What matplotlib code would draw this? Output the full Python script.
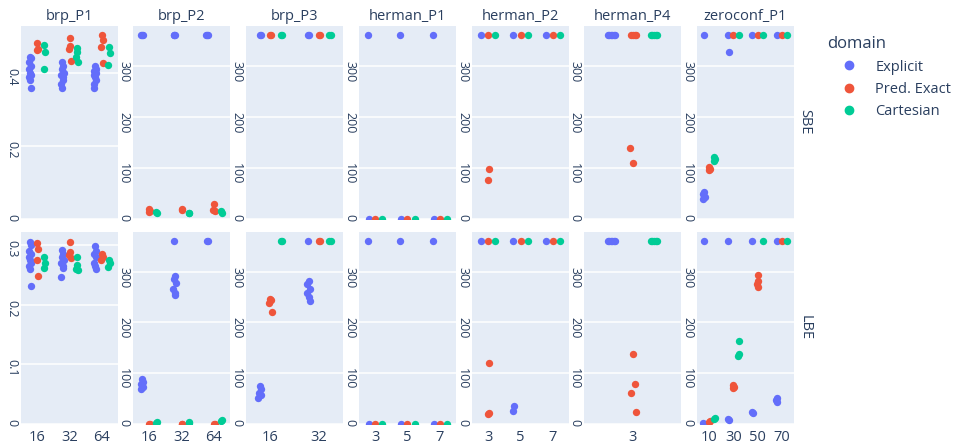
import matplotlib.pyplot as plt
from matplotlib.lines import Line2D

plt.rcParams['font.family'] = ['Open Sans', 'DejaVu Sans']

columns = ["brp_P1", "brp_P2", "brp_P3", "herman_P1", "herman_P2", "herman_P4", "zeroconf_P1"]
categories = [
    ["16", "32", "64"],
    ["16", "32", "64"],
    ["16", "32"],
    ["3", "5", "7"],
    ["3", "5", "7"],
    ["3"],
    ["10", "30", "50", "70"],
]
row_names = ["SBE", "LBE"]
domains = ["Explicit", "Pred. Exact", "Cartesian"]
colors = {"Explicit": "#636EFA", "Pred. Exact": "#EF553B", "Cartesian": "#00CC96"}

# values per panel: domain -> one list per category
brp_P1_SBE = {
    "Explicit": [[0.445, 0.44, 0.43, 0.42, 0.41, 0.40, 0.395, 0.39, 0.38, 0.36],
                 [0.43, 0.42, 0.41, 0.40, 0.395, 0.39, 0.38, 0.37, 0.36],
                 [0.42, 0.41, 0.405, 0.40, 0.395, 0.39, 0.38, 0.37, 0.36]],
    "Pred. Exact": [[0.482, 0.466, 0.463], [0.496, 0.474, 0.466, 0.433], [0.504, 0.49, 0.471, 0.427]],
    "Cartesian": [[0.477, 0.458, 0.411], [0.469, 0.458, 0.444, 0.43], [0.471, 0.455, 0.422]],
}
brp_P1_LBE = {
    "Explicit": [[0.305, 0.30, 0.29, 0.285, 0.28, 0.275, 0.27, 0.265, 0.26, 0.231],
                 [0.292, 0.285, 0.28, 0.275, 0.27, 0.265, 0.261, 0.246],
                 [0.298, 0.29, 0.285, 0.28, 0.27, 0.265, 0.26]],
    "Pred. Exact": [[0.303, 0.293, 0.275, 0.248], [0.305, 0.288, 0.283, 0.278], [0.285, 0.28, 0.275]],
    "Cartesian": [[0.28, 0.27, 0.261], [0.28, 0.267, 0.26, 0.258], [0.275, 0.27, 0.263]],
}
brp_P2_SBE = {
    "Explicit": [[360, 360, 360], [360, 360, 360], [360, 360, 360]],
    "Pred. Exact": [[20, 16, 14], [20, 17], [29, 16, 18]],
    "Cartesian": [[13, 12], [12, 11], [15, 12]],
}
brp_P2_LBE = {
    "Explicit": [[88, 82, 78, 72, 68], [360, 292, 285, 278, 265, 258, 254], [360, 360]],
    "Pred. Exact": [[0, 0], [0, 0], [0, 0]],
    "Cartesian": [[2, 3], [2, 3], [5, 8]],
}
brp_P3_SBE = {
    "Explicit": [[360, 360], [360, 360]],
    "Pred. Exact": [[360, 360], [360, 360]],
    "Cartesian": [[360, 360], [360, 360]],
}
brp_P3_LBE = {
    "Explicit": [[74, 68, 62, 58, 52], [360, 282, 275, 265, 258, 250, 242]],
    "Pred. Exact": [[247, 244, 238, 221], [360, 360]],
    "Cartesian": [[360, 360], [360, 360]],
}
herman_P1_SBE = {
    "Explicit": [[360, 0], [360, 0], [360, 0]],
    "Pred. Exact": [[0], [0], [0]],
    "Cartesian": [[0], [0], [0]],
}
herman_P1_LBE = {
    "Explicit": [[360, 0], [360, 0], [360, 0]],
    "Pred. Exact": [[0], [0], [0]],
    "Cartesian": [[0], [0], [0]],
}
herman_P2_SBE = {
    "Explicit": [[360], [360], [360]],
    "Pred. Exact": [[360, 98, 76], [360], [360]],
    "Cartesian": [[360], [360], [360]],
}
herman_P2_LBE = {
    "Explicit": [[360], [360, 36, 26], [360]],
    "Pred. Exact": [[360, 121, 20, 22], [360], [360]],
    "Cartesian": [[360], [360], [360]],
}
herman_P4_SBE = {
    "Explicit": [[360, 360, 360, 360, 360, 360]],
    "Pred. Exact": [[360, 360, 360, 360, 139, 110]],
    "Cartesian": [[360, 360, 360, 360, 360]],
}
herman_P4_LBE = {
    "Explicit": [[360, 360, 360, 360, 360, 360]],
    "Pred. Exact": [[137, 78, 62, 24]],
    "Cartesian": [[360, 360, 360, 360, 360]],
}
zeroconf_P1_SBE = {
    "Explicit": [[360, 53, 48, 44, 40], [360, 327], [360], [360]],
    "Pred. Exact": [[102, 98, 95], [360], [360], [360]],
    "Cartesian": [[122, 118, 114], [360], [360], [360]],
}
zeroconf_P1_LBE = {
    "Explicit": [[360, 0, 1], [360, 8, 10], [360, 22, 24], [360, 52, 48, 44]],
    "Pred. Exact": [[4, 5], [76, 73, 70], [294, 282, 276, 270], [360]],
    "Cartesian": [[9, 11], [163, 137, 133], [360], [360]],
}

panels = {
    "SBE": [brp_P1_SBE, brp_P2_SBE, brp_P3_SBE, herman_P1_SBE, herman_P2_SBE, herman_P4_SBE, zeroconf_P1_SBE],
    "LBE": [brp_P1_LBE, brp_P2_LBE, brp_P3_LBE, herman_P1_LBE, herman_P2_LBE, herman_P4_LBE, zeroconf_P1_LBE],
}

TEXT = "#2a3f5f"
BG = "#E5ECF6"
W, H = 958, 447
offsets = [-0.22, 0.0, 0.22]
jitter = [0.0, 0.025, -0.02, 0.035, -0.03, 0.01, 0.03, -0.035, -0.01, 0.02]

fig = plt.figure(figsize=(W / 100, H / 100), dpi=100)

ax_left = [21, 133, 246, 359, 472, 584, 697]
ax_w = 97
row_box = {"SBE": (26, 219), "LBE": (232, 424)}

for r, row in enumerate(row_names):
    top, bot = row_box[row]
    for c, col in enumerate(columns):
        ax = fig.add_axes([ax_left[c] / W, 1 - bot / H, ax_w / W, (bot - top) / H])
        ax.set_facecolor(BG)
        for s in ax.spines.values():
            s.set_visible(False)
        data = panels[row][c]
        cats = categories[c]
        for d, dom in enumerate(domains):
            xs, ys = [], []
            for k, vals in enumerate(data[dom]):
                for i, v in enumerate(vals):
                    xs.append(k + offsets[d] + jitter[i % len(jitter)])
                    ys.append(v)
            ax.scatter(xs, ys, s=28, color=colors[dom], linewidths=0, zorder=3, clip_on=True)
        ax.set_xlim(-0.5, len(cats) - 0.5)
        ax.set_xticks(range(len(cats)))
        if col == "brp_P1":
            if row == "SBE":
                ax.set_ylim(0, 0.529)
                ax.set_yticks([0, 0.2, 0.4], ["0", "0.2", "0.4"])
            else:
                ax.set_ylim(0, 0.322)
                ax.set_yticks([0, 0.1, 0.2, 0.3], ["0", "0.1", "0.2", "0.3"])
        else:
            ax.set_ylim(0, 378)
            ax.set_yticks([0, 100, 200, 300])
        ax.yaxis.grid(True, color="white", linewidth=1.1)
        ax.set_axisbelow(True)
        ax.tick_params(axis="y", length=0, pad=2, labelrotation=-90, labelsize=9, labelcolor=TEXT)
        if row == "LBE":
            ax.set_xticklabels(cats)
            ax.tick_params(axis="x", length=0, pad=4, labelsize=10.5, labelcolor=TEXT)
        else:
            ax.set_xticklabels([])
            ax.tick_params(axis="x", length=0)
            ax.set_title(col, fontsize=10.5, color=TEXT, pad=4)

fig.text(805 / W, 1 - 122 / H, "SBE", rotation=-90, ha="center", va="center", fontsize=10.5, color=TEXT)
fig.text(805 / W, 1 - 328 / H, "LBE", rotation=-90, ha="center", va="center", fontsize=10.5, color=TEXT)

handles = [Line2D([], [], marker="o", linestyle="", color=colors[d], markersize=6, label=d) for d in domains]
fig.legend(handles=handles, title="domain", loc="upper left", bbox_to_anchor=(817 / W, 1 - 26 / H),
           frameon=False, alignment="left", fontsize=10.5, title_fontsize=12, labelcolor=TEXT,
           handlelength=3.0, handletextpad=0.3, labelspacing=0.5, borderpad=0.2)
leg = fig.legends[0]
leg.get_title().set_color(TEXT)

fig.savefig("out.png", dpi=100)
